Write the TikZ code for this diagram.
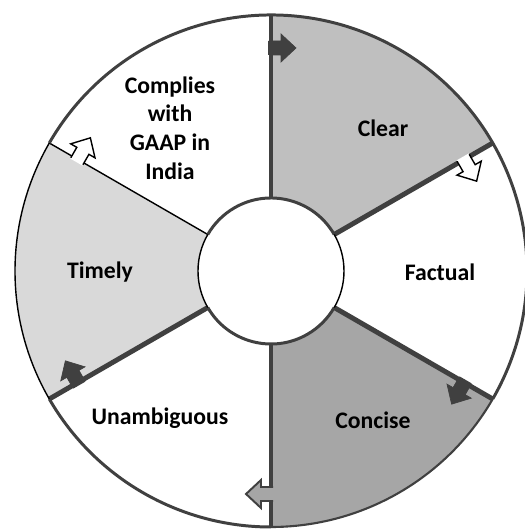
\documentclass[tikz,border=0pt]{standalone}
\usepackage{fontspec}
\setmainfont{Carlito}
\usepackage{xcolor}
\usetikzlibrary{positioning}
\definecolor{edgegrey}{HTML}{404040}
\definecolor{clearfill}{HTML}{BFBFBF}
\definecolor{timelyfill}{HTML}{D9D9D9}
\definecolor{concisefill}{HTML}{A6A6A6}
\tikzset{
  seglabel/.style={
    font=\bfseries\fontsize{13.5}{16.4}\selectfont,
    align=center, text=black, inner sep=0pt
  },
  divider/.style={draw=edgegrey, line width=2.8pt},
  thindivider/.style={draw=black, line width=0.8pt},
  rim/.style={draw=edgegrey, line width=1.7pt},
  thinrim/.style={draw=black, line width=0.8pt},
  darkarrow/.style={fill=edgegrey, draw=edgegrey, line width=0.4pt},
  openarrow/.style={fill=white, draw=black, line width=0.8pt},
  greyarrow/.style={fill=concisefill, draw=edgegrey, line width=1.1pt}
}
% block arrow on the divider at angle #1, pointing clockwise
\newcommand\segarrow[2]{%
  \begin{scope}[rotate=#1]
    \fill[#2, draw=none] (216,3) -- (216,-10) -- (209,-10) -- (223,-25)
      -- (237,-10) -- (230,-10) -- (230,3) -- cycle;
    \draw[#2, fill=none] (216,2) -- (216,-10) -- (209,-10) -- (223,-25)
      -- (237,-10) -- (230,-10) -- (230,2);
  \end{scope}}

\begin{document}
\begin{tikzpicture}[x=0.02cm, y=0.02cm]
\useasboundingbox (-271,-259) rectangle (253,271);

% Sectors
\fill[clearfill] (30:256) arc[start angle=30, end angle=90, radius=256]
  -- (90:73) arc[start angle=90, end angle=30, radius=73] -- cycle;
\fill[concisefill] (-90:256) arc[start angle=-90, end angle=-30, radius=256]
  -- (-30:73) arc[start angle=-30, end angle=-90, radius=73] -- cycle;
\fill[timelyfill] (150:256) arc[start angle=150, end angle=210, radius=256]
  -- (210:73) arc[start angle=210, end angle=150, radius=73] -- cycle;

% Dividers
\foreach \a in {90,30,-30,-90,210}
  \draw[divider] (\a:73) -- (\a:256);
\draw[thindivider] (150:73) -- (150:256);

% Outer rim
\draw[rim] (-30:256) arc[start angle=-30, end angle=150, radius=256];
\draw[rim] (210:256) arc[start angle=210, end angle=270, radius=256];
\draw[draw=edgegrey, line width=1.2pt] (270:256) arc[start angle=270, end angle=330, radius=256];
\draw[thinrim] (150:256) arc[start angle=150, end angle=210, radius=256];

% Hub
\fill[white] (0,0) circle[radius=73];
\draw[rim] (30:73) arc[start angle=30, end angle=150, radius=73];
\draw[rim] (210:73) arc[start angle=210, end angle=330, radius=73];
\draw[thinrim] (150:73) arc[start angle=150, end angle=210, radius=73];
\draw[thinrim] (-30:73) arc[start angle=-30, end angle=30, radius=73];

% Arrows
\segarrow{90}{darkarrow}
\segarrow{30}{openarrow}
\segarrow{-30}{darkarrow}
\segarrow{-90}{greyarrow}
\segarrow{210}{darkarrow}
\segarrow{150}{openarrow}

% Labels
\node[seglabel] (complies) at (-101,143) {Complies\\with\\GAAP in\\India};
\node[seglabel] (clear) at (112,143) {Clear};
\node[seglabel] (factual) at (169,-1) {Factual};
\node[seglabel] (concise) at (102,-149) {Concise};
\node[seglabel] (unambig) at (-111,-147) {Unambiguous};
\node[seglabel] (timely) at (-171,-1) {Timely};

\end{tikzpicture}
\end{document}
